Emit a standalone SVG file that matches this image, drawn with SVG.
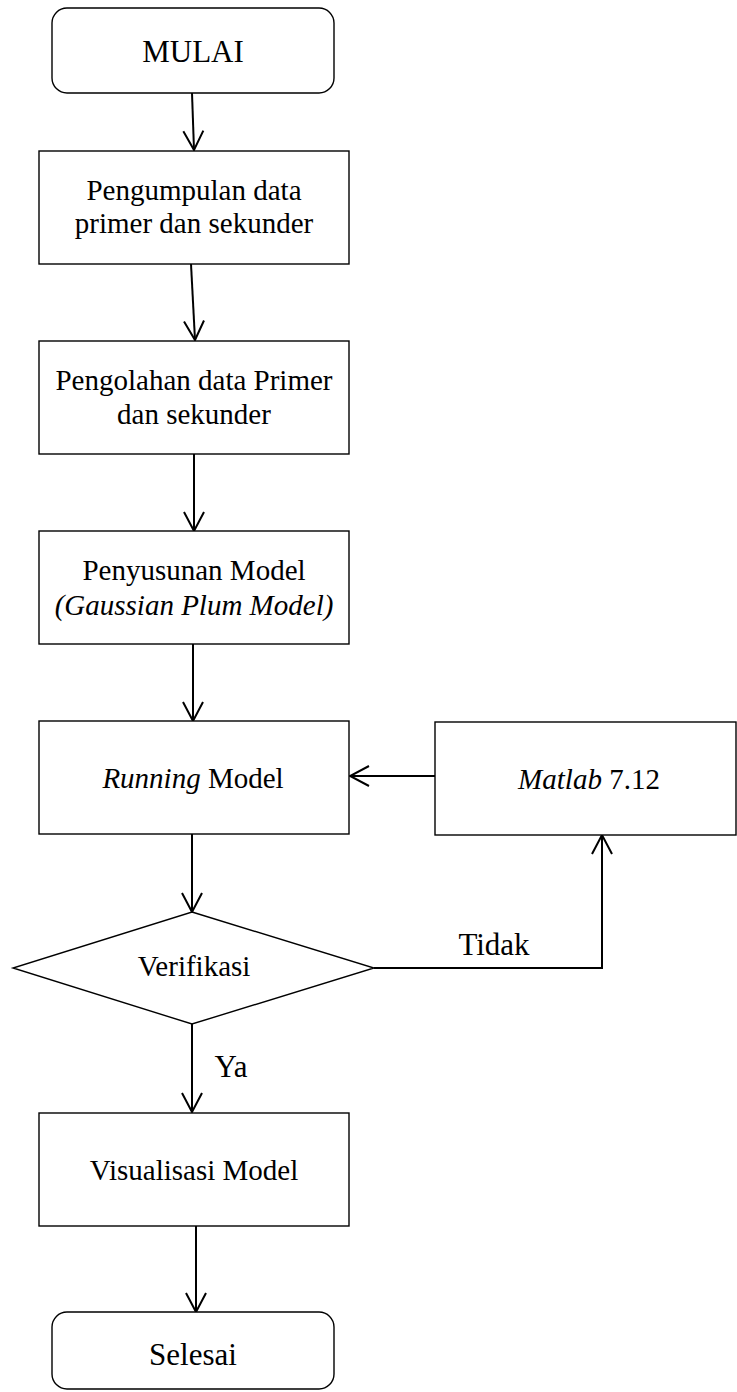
<svg xmlns="http://www.w3.org/2000/svg" width="737" height="1392" viewBox="0 0 737 1392">
  <style>
    .box { fill: #fff; stroke: #000; stroke-width: 1.4; }
    .lbl { font-family: "Liberation Serif", "Times New Roman", serif; font-size: 29px; fill: #000; text-anchor: middle; }
    .big { font-size: 31px; }
    .it { font-style: italic; }
    .conn { fill: none; stroke: #000; stroke-width: 2; }
  </style>
  <defs>
    <marker id="arrow" markerUnits="userSpaceOnUse" viewBox="-21 -12 23 24" refX="0" refY="0" markerWidth="23" markerHeight="24" orient="auto">
      <path d="M-19,-10 L0,0 L-19,10" fill="none" stroke="#000" stroke-width="2"/>
    </marker>
  </defs>

  <g id="connectors">
    <path class="conn" d="M192,93 L194,150" marker-end="url(#arrow)"/>
    <path class="conn" d="M191,264 L195,340" marker-end="url(#arrow)"/>
    <path class="conn" d="M194,454 L194,531" marker-end="url(#arrow)"/>
    <path class="conn" d="M193,644 L193,721" marker-end="url(#arrow)"/>
    <path class="conn" d="M435,776 L350,776" marker-end="url(#arrow)"/>
    <path class="conn" d="M192,834 L192,912" marker-end="url(#arrow)"/>
    <path class="conn" d="M374,968 L602,968 L602,835" marker-end="url(#arrow)"/>
    <path class="conn" d="M192,1024 L192,1112" marker-end="url(#arrow)"/>
    <path class="conn" d="M196,1226 L196,1312" marker-end="url(#arrow)"/>
    <text class="lbl big" x="494" y="955">Tidak</text>
    <text class="lbl big" x="231" y="1077">Ya</text>
  </g>

  <g id="mulai">
    <rect class="box" x="52" y="8" width="282" height="85" rx="15" ry="15"/>
    <text class="lbl big" x="193" y="62">MULAI</text>
  </g>

  <g id="pengumpulan">
    <rect class="box" x="39" y="151" width="310" height="113"/>
    <text class="lbl" x="194" y="200">Pengumpulan data</text>
    <text class="lbl" x="194" y="233">primer dan sekunder</text>
  </g>

  <g id="pengolahan">
    <rect class="box" x="39" y="341" width="310" height="113"/>
    <text class="lbl" x="194" y="390">Pengolahan data Primer</text>
    <text class="lbl" x="194" y="424">dan sekunder</text>
  </g>

  <g id="penyusunan">
    <rect class="box" x="39" y="531" width="310" height="113"/>
    <text class="lbl" x="194" y="580">Penyusunan Model</text>
    <text class="lbl it" x="194" y="615">(Gaussian Plum Model)</text>
  </g>

  <g id="running">
    <rect class="box" x="39" y="721" width="310" height="113"/>
    <text class="lbl" x="193" y="788"><tspan class="it">Running</tspan> Model</text>
  </g>

  <g id="matlab">
    <rect class="box" x="435" y="722" width="301" height="113"/>
    <text class="lbl" x="589" y="789"><tspan class="it">Matlab</tspan> 7.12</text>
  </g>

  <g id="verifikasi">
    <polygon class="box" points="192,912 374,968 192,1024 13,968"/>
    <text class="lbl" x="194" y="976">Verifikasi</text>
  </g>

  <g id="visualisasi">
    <rect class="box" x="39" y="1113" width="310" height="113"/>
    <text class="lbl" x="194" y="1180">Visualisasi Model</text>
  </g>

  <g id="selesai">
    <rect class="box" x="52" y="1312" width="282" height="77" rx="15" ry="15"/>
    <text class="lbl big" x="193" y="1365">Selesai</text>
  </g>
</svg>
